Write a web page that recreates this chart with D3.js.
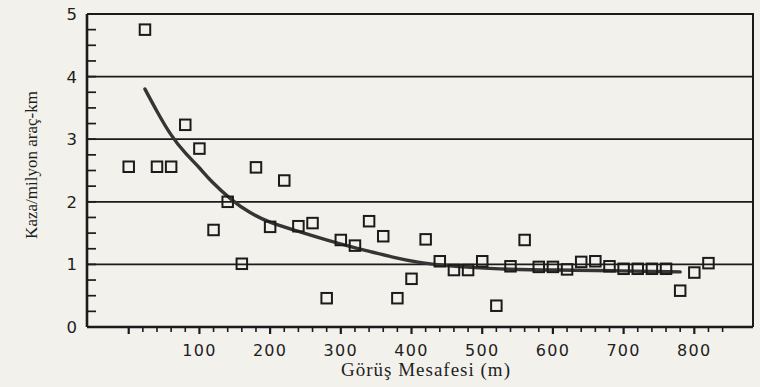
<!DOCTYPE html>
<html>
<head>
<meta charset="utf-8">
<script src="https://cdn.jsdelivr.net/npm/d3@7"></script>
<style>
  html, body { margin: 0; padding: 0; background: #f3f1ec; }
  svg { display: block; }
</style>
</head>
<body>
<svg id="chart" width="760" height="387"></svg>
<script>
// Görüş mesafesi (m) vs. kaza oranı (kaza / milyon araç-km)
const distances = [0, 23, 40, 60, 80, 100, 120, 140, 160, 180, 200, 220, 240, 260, 280, 300, 320, 340, 360, 380, 400,
                   420, 440, 460, 480, 500, 520, 540, 560, 580, 600, 620, 640, 660, 680, 700, 720, 740, 760, 780, 800, 820];
const rates = [2.56, 4.75, 2.56, 2.56, 3.23, 2.85, 1.55, 2.00, 1.01, 2.55, 1.60, 2.34, 1.61, 1.66, 0.46, 1.39, 1.30, 1.69, 1.45, 0.46, 0.77,
               1.40, 1.05, 0.91, 0.91, 1.05, 0.34, 0.97, 1.39, 0.96, 0.96, 0.92, 1.04, 1.05, 0.97, 0.93, 0.93, 0.93, 0.93, 0.58, 0.87, 1.02];

// fitted trend curve
const trendX = [23, 40, 60, 80, 100, 115, 147, 170, 200, 240, 300, 340, 375, 410, 440, 480, 540, 600, 685, 780];
const trendY = [3.80, 3.44, 3.05, 2.77, 2.55, 2.34, 2.01, 1.83, 1.66, 1.53, 1.32, 1.21, 1.11, 1.03, 0.99, 0.95, 0.92, 0.91, 0.90, 0.88];

const xTickLabels = [100, 200, 300, 400, 500, 600, 700, 800];
const yTickLabels = [0, 1, 2, 3, 4, 5];

const svg = d3.select("#chart");
const plotLeft = 87, plotRight = 753, plotTop = 14, plotBottom = 327;

const x = d3.scaleLinear().domain([-59, 883]).range([plotLeft, plotRight]);
const y = d3.scaleLinear().domain([0, 5]).range([plotBottom, plotTop]);

const ink = "#1b1b1b";

// horizontal grid lines at every whole value
svg.append("g").selectAll("line")
  .data(yTickLabels.filter(v => v > 0 && v < 5))
  .join("line")
  .attr("x1", plotLeft).attr("x2", plotRight)
  .attr("y1", d => y(d)).attr("y2", d => y(d))
  .attr("stroke", ink).attr("stroke-width", 1.7);

// frame: top and right edges
svg.append("path")
  .attr("d", `M${plotLeft},${y(5)}H${plotRight}V${plotBottom}`)
  .attr("fill", "none").attr("stroke", ink).attr("stroke-width", 2);

// x axis: ticks every 20 m, labels every 100 m
const xMinor = d3.range(0, 841, 20);
const xAxis = svg.append("g").attr("transform", `translate(0,${plotBottom})`);
xAxis.append("line").attr("x1", plotLeft).attr("x2", plotRight).attr("stroke", ink).attr("stroke-width", 2.6);
xAxis.selectAll("line.t").data(xMinor).join("line").attr("class", "t")
  .attr("x1", d => x(d)).attr("x2", d => x(d))
  .attr("y1", 0).attr("y2", d => d % 100 === 0 ? 7 : 5)
  .attr("stroke", ink).attr("stroke-width", d => d % 100 === 0 ? 2.2 : 1.6);
xAxis.selectAll("text").data(xTickLabels).join("text")
  .attr("x", d => x(d)).attr("y", 29)
  .attr("text-anchor", "middle")
  .attr("font-family", "DejaVu Sans, sans-serif").attr("font-size", 16)
  .attr("letter-spacing", 1.3)
  .attr("fill", "#1e1e1e")
  .text(d => d);

// y axis: inward ticks every 0.25, labels at whole values
const yMinor = d3.range(0, 5.001, 0.25);
const yAxis = svg.append("g").attr("transform", `translate(${plotLeft},0)`);
yAxis.append("line").attr("y1", plotTop).attr("y2", plotBottom).attr("stroke", ink).attr("stroke-width", 2.6);
yAxis.selectAll("line.t").data(yMinor).join("line").attr("class", "t")
  .attr("x1", 0).attr("x2", 9)
  .attr("y1", d => y(d)).attr("y2", d => y(d))
  .attr("stroke", ink).attr("stroke-width", 1.7);
yAxis.selectAll("text").data(yTickLabels).join("text")
  .attr("x", -10).attr("y", d => y(d) + 6)
  .attr("text-anchor", "end")
  .attr("font-family", "DejaVu Sans, sans-serif").attr("font-size", 16.5)
  .attr("fill", "#1e1e1e")
  .text(d => d);

// trend curve
const line = d3.line().x(d => x(d[0])).y(d => y(d[1])).curve(d3.curveBasis);
svg.append("path")
  .datum(d3.zip(trendX, trendY))
  .attr("d", line)
  .attr("fill", "none").attr("stroke", "#383434").attr("stroke-width", 3.4)
  .attr("stroke-linecap", "round");

// observed points as open squares
const s = 10.5;
svg.append("g").selectAll("rect")
  .data(d3.zip(distances, rates))
  .join("rect")
  .attr("x", d => x(d[0]) - s / 2).attr("y", d => y(d[1]) - s / 2)
  .attr("width", s).attr("height", s)
  .attr("fill", "none").attr("stroke", ink).attr("stroke-width", 2);

// axis titles
svg.append("text")
  .attr("x", 426).attr("y", 376)
  .attr("text-anchor", "middle")
  .attr("font-family", "Liberation Serif, Times New Roman, serif").attr("font-size", 19)
  .attr("letter-spacing", 1)
  .attr("fill", "#1e1e1e")
  .text("Görüş Mesafesi (m)");

svg.append("text")
  .attr("transform", "translate(37,165) rotate(-90)")
  .attr("text-anchor", "middle")
  .attr("font-family", "Liberation Serif, Times New Roman, serif").attr("font-size", 17)
  .attr("fill", "#1e1e1e")
  .text("Kaza/milyon araç-km");
</script>
</body>
</html>
